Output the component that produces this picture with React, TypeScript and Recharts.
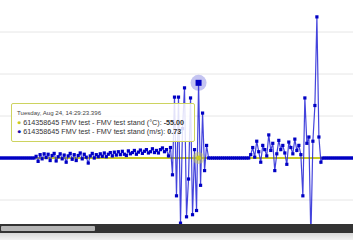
import { LineChart, Line, XAxis, YAxis, ReferenceLine, ReferenceDot } from 'recharts';

// wind speed samples (m/s), split by stretch of the recording
const speedFlatStart = [0, 0, 0, 0, 0, 0, 0, 0, 0, 0, 0, 0, 0, 0, 0, 0, 0, 0];
const speedNoise1 = [
  0.04, -0.08, 0.08, -0.02, 0.1, 0.01, 0.09, -0.06, 0.06, 0.11, -0.07, 0.03, 0.1, -0.02, 0.07, -0.1,
  0.05, 0.11, -0.03, 0.08, -0.06, 0.06, 0.12, -0.02, 0.09, 0.02, -0.12, 0.05, 0.11, 0.0, 0.08, 0.03,
  0.1, 0.04, 0.12, 0.03, 0.09, 0.13, 0.05, 0.14, 0.07, 0.15, 0.08, 0.16, 0.09, 0.06, 0.17, 0.1,
  0.13, 0.18, 0.09, 0.14, 0.19, 0.11, 0.16, 0.2, 0.12, 0.15, 0.22, 0.13, 0.18, 0.12, 0.2, 0.24,
];
const speedSpikes1 = [
  0.15, 0.2, 0.05, 0.25, -0.4, 1.45, -0.9, 1.45, -1.55, 0.7, 1.67, -1.4, -0.5, 1.43, -1.35, 0.2,
  -1.25, 1.79, -0.65, 1.07, -0.3, 0.3,
];
const speedFlatMid = [0, 0, 0, 0, 0, 0, 0, 0, 0, 0, 0, 0, 0, 0, 0, 0, 0, 0, 0, 0, 0];
const speedNoise2 = [
  0.08, 0.25, 0.02, 0.4, 0.15, -0.1, 0.3, 0.2, 0.05, 0.55, 0.18, 0.35, -0.3, 0.1, 0.42, 0.2,
  0.3, 0.12, -0.15, 0.38, 0.25, 0.1, 0.45, 0.18, 0.3, 0.08,
];
const speedSpikes2 = [-0.9, 1.43, 0.35, 0.5, -1.9, 0.4, 1.25, 3.36, 0.5, -0.1];
const speedFlatEnd = [0, 0, 0, 0, 0, 0, 0, 0, 0, 0, 0, 0, 0, 0, 0, 0];

const speed = [
  ...speedFlatStart, ...speedNoise1, ...speedSpikes1, ...speedFlatMid,
  ...speedNoise2, ...speedSpikes2, ...speedFlatEnd,
];

// temperature (°C) stays at the stand's reading throughout
const temperature = [
  -55, -55, -55, -55, -55, -55, -55, -55, -55, -55, -55, -55, -55, -55, -55, -55, -55, -55, -55, -55,
  -55, -55, -55, -55, -55, -55, -55, -55, -55, -55, -55, -55, -55, -55, -55, -55, -55, -55, -55, -55,
  -55, -55, -55, -55, -55, -55, -55, -55, -55, -55, -55, -55, -55, -55, -55, -55, -55, -55, -55, -55,
  -55, -55, -55, -55, -55, -55, -55, -55, -55, -55, -55, -55, -55, -55, -55, -55, -55, -55, -55, -55,
  -55, -55, -55, -55, -55, -55, -55, -55, -55, -55, -55, -55, -55, -55, -55, -55, -55, -55, -55, -55,
  -55, -55, -55, -55, -55, -55, -55, -55, -55, -55, -55, -55, -55, -55, -55, -55, -55, -55, -55, -55,
  -55, -55, -55, -55, -55, -55, -55, -55, -55, -55, -55, -55, -55, -55, -55, -55, -55, -55, -55, -55,
  -55, -55, -55, -55, -55, -55, -55, -55, -55, -55, -55, -55, -55, -55, -55, -55, -55, -55, -55, -55,
  -55, -55, -55, -55, -55, -55, -55, -55, -55, -55, -55, -55, -55, -55, -55, -55, -55,
];

const gridValues = [-1, 0, 1, 2, 3];
const hoverIndex = 99;
const hoverLabel = 'Tuesday, Aug 24, 14:29:23.396';
const seriesNames = ['614358645 FMV test - FMV test stand (°C)', '614358645 FMV test - FMV test stand (m/s)'];
const hoverValues = ['-55.00', '0.73'];

const data = speed.map((v, i) => ({ i, speed: v, temp: temperature[i] }));

const BLUE = '#2323d6';
const YELLOW = '#c9c924';

const squareDot = (p: any) => (
  <rect key={`d${p.index}`} x={p.cx - 1.6} y={p.cy - 1.6} width={3.2} height={3.2} fill="#0000c4" />
);

export default function App() {
  return (
    <div style={{ position: 'fixed', left: 0, top: 0, width: 353, height: 240, background: '#fff', fontFamily: '"Liberation Sans", Arial, sans-serif' }}>
      <LineChart width={353} height={224} data={data} margin={{ top: 0, right: 0, bottom: 0, left: 0 }}>
        <XAxis dataKey="i" hide />
        <YAxis yAxisId="speed" hide domain={[-1.571, 3.762]} allowDataOverflow />
        <YAxis yAxisId="temp" hide domain={[-56.571, -51.238]} allowDataOverflow />
        {gridValues.map(g => (
          <ReferenceLine key={g} yAxisId="speed" y={g} stroke="#e6e6e6" strokeWidth={1} />
        ))}
        <Line yAxisId="temp" dataKey="temp" stroke={YELLOW} strokeWidth={2} dot={false} activeDot={false} isAnimationActive={false} />
        <Line yAxisId="speed" dataKey="speed" stroke={BLUE} strokeWidth={1.2} strokeOpacity={0.85} dot={squareDot} activeDot={false} isAnimationActive={false} />
        <ReferenceDot yAxisId="temp" x={hoverIndex} y={temperature[hoverIndex]} r={6} fill="#c6c65a" fillOpacity={0.5} stroke="none" />
        <ReferenceDot yAxisId="temp" x={hoverIndex} y={temperature[hoverIndex]} r={2.5} fill={YELLOW} stroke="none" />
        <ReferenceDot yAxisId="speed" x={hoverIndex} y={speed[hoverIndex]} r={8} fill="#3a3ad0" fillOpacity={0.3} stroke="none" />
        <ReferenceDot
          yAxisId="speed"
          x={hoverIndex}
          y={speed[hoverIndex]}
          shape={(p: any) => <rect x={p.cx - 3} y={p.cy - 3} width={6} height={6} fill="#0000c4" />}
        />
      </LineChart>
      <div style={{ position: 'absolute', left: 0, top: 224, width: 353, height: 9, background: '#333' }}>
        <div style={{ position: 'absolute', left: 1, top: 2, width: 94, height: 5, background: '#b5b5b5', borderRadius: 1 }} />
      </div>
      <div style={{ position: 'absolute', left: 0, top: 233, width: 353, height: 7, background: 'linear-gradient(#d8d8d8, #f2f2f2)' }} />
      <div
        style={{
          position: 'absolute', left: 11, top: 103, width: 177, height: 33,
          border: '1px solid #cdd35f', background: 'rgba(255,255,255,0.85)', borderRadius: 2,
          color: '#333', fontSize: 7.2, lineHeight: '9.5px', padding: '4px 0 0 5px', whiteSpace: 'nowrap',
        }}
      >
        <div style={{ fontSize: 6.1, color: '#444' }}>{hoverLabel}</div>
        <div><span style={{ color: YELLOW }}>●</span> {seriesNames[0]}: <b>{hoverValues[0]}</b></div>
        <div><span style={{ color: '#1010b0' }}>●</span> {seriesNames[1]}: <b>{hoverValues[1]}</b></div>
      </div>
    </div>
  );
}
